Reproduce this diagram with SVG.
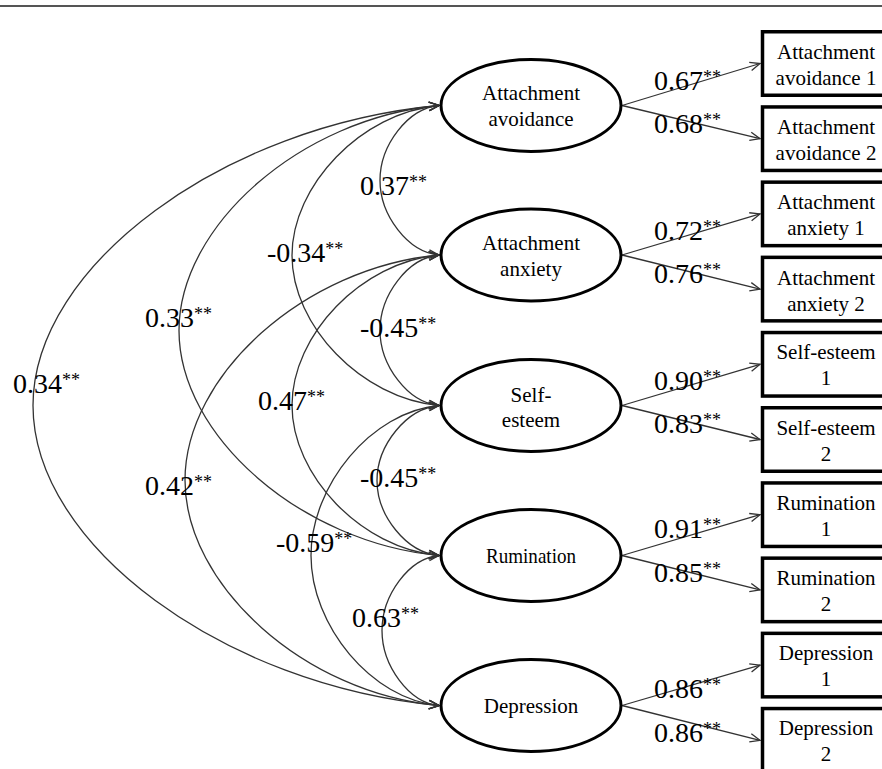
<svg xmlns="http://www.w3.org/2000/svg" width="882" height="769" viewBox="0 0 882 769">
<defs>
<marker id="ah" markerUnits="userSpaceOnUse" markerWidth="14" markerHeight="12" refX="11" refY="5" orient="auto-start-reverse" viewBox="0 0 14 10">
<path d="M1,0.8 L11,5 L1,9.2" fill="none" stroke="#333" stroke-width="1.3"/>
</marker>
<style>
text{font-family:"Liberation Serif","Times New Roman",serif;fill:#000}
.nt{font-size:21px;text-anchor:middle}
.coef{font-size:28px}
.sup{font-size:18px}
.lat{fill:#fff;stroke:#000;stroke-width:3}
.obs{fill:#fff;stroke:#000;stroke-width:3.5}
.c{fill:none;stroke:#333;stroke-width:1.3;marker-end:url(#ah)}
.cc{fill:none;stroke:#333;stroke-width:1.3;marker-start:url(#ah);marker-end:url(#ah)}
</style>
</defs>
<rect width="882" height="769" fill="#fff"/>
<line x1="0" y1="6" x2="882" y2="6" stroke="#555" stroke-width="1.8"/>

<g id="connectors">
<path class="cc" d="M439,105.5 C407.7,108.4 380,145.4 380,180.25 C380,215.1 407.7,252.1 439,255"/>
<path class="cc" d="M439,255 C407.7,257.9 380,295.1 380,330.25 C380,365.4 407.7,402.6 439,405.5"/>
<path class="cc" d="M439,405.5 C406.1,408.5 377,445.5 377,480.5 C377,515.5 406.1,552.5 439,555.5"/>
<path class="cc" d="M439,555.5 C408.8,558.3 382,595.5 382,630.5 C382,665.5 408.8,702.7 439,705.5"/>
<path class="cc" d="M439,105.5 C361.1,112.7 292,185.5 292,255.5 C292,325.5 361.1,398.3 439,405.5"/>
<path class="cc" d="M439,255 C361.1,262.2 292,335.1 292,405.25 C292,475.4 361.1,548.3 439,555.5"/>
<path class="cc" d="M439,405.5 C371.2,411.8 311,485.5 311,555.5 C311,625.5 371.2,699.2 439,705.5"/>
<path class="cc" d="M439,105.5 C301.2,118.2 179,225.4 179,330.5 C179,435.6 301.2,542.8 439,555.5"/>
<path class="cc" d="M439,255 C304.4,267.4 185,375.1 185,480.25 C185,585.4 304.4,693.1 439,705.5"/>
<path class="cc" d="M439,105.5 C223.8,125.4 33,265.4 33,405.5 C33,545.6 223.8,685.6 439,705.5"/>

<path class="c" d="M622,105.5 L760,63.5"/>
<path class="c" d="M622,105.5 L760,138.7"/>
<path class="c" d="M622,255 L760,213.9"/>
<path class="c" d="M622,255 L760,289.1"/>
<path class="c" d="M622,405.5 L760,364.3"/>
<path class="c" d="M622,405.5 L760,439.5"/>
<path class="c" d="M622,555.5 L760,514.7"/>
<path class="c" d="M622,555.5 L760,589.9"/>
<path class="c" d="M622,705.5 L760,665.1"/>
<path class="c" d="M622,705.5 L760,740.3"/>
</g>

<g id="latents">
<g id="n-avoid"><ellipse class="lat" cx="531" cy="105.5" rx="90" ry="46"/>
<text class="nt" x="531" y="100">Attachment</text><text class="nt" x="531" y="126">avoidance</text></g>
<g id="n-anx"><ellipse class="lat" cx="531" cy="255" rx="90" ry="46"/>
<text class="nt" x="531" y="250">Attachment</text><text class="nt" x="531" y="276">anxiety</text></g>
<g id="n-self"><ellipse class="lat" cx="531" cy="405.5" rx="90" ry="46"/>
<text class="nt" x="531" y="401.5">Self-</text><text class="nt" x="531" y="427">esteem</text></g>
<g id="n-rum"><ellipse class="lat" cx="531" cy="555.5" rx="90" ry="46"/>
<text class="nt" x="531" y="563" textLength="90" lengthAdjust="spacingAndGlyphs">Rumination</text></g>
<g id="n-dep"><ellipse class="lat" cx="531" cy="705.5" rx="90" ry="46"/>
<text class="nt" x="531" y="713">Depression</text></g>
</g>

<g id="indicators">
<g id="b-av1"><rect class="obs" x="762.5" y="31.75" width="130" height="63.5"/>
<text class="nt" x="826" y="59">Attachment</text><text class="nt" x="826" y="85">avoidance 1</text></g>
<g id="b-av2"><rect class="obs" x="762.5" y="106.95" width="130" height="63.5"/>
<text class="nt" x="826" y="134.2">Attachment</text><text class="nt" x="826" y="160.2">avoidance 2</text></g>
<g id="b-ax1"><rect class="obs" x="762.5" y="182.15" width="130" height="63.5"/>
<text class="nt" x="826" y="209.4">Attachment</text><text class="nt" x="826" y="235.4">anxiety 1</text></g>
<g id="b-ax2"><rect class="obs" x="762.5" y="257.35" width="130" height="63.5"/>
<text class="nt" x="826" y="284.6">Attachment</text><text class="nt" x="826" y="310.6">anxiety 2</text></g>
<g id="b-se1"><rect class="obs" x="762.5" y="332.55" width="130" height="63.5"/>
<text class="nt" x="826" y="359.3">Self-esteem</text><text class="nt" x="826" y="385.3">1</text></g>
<g id="b-se2"><rect class="obs" x="762.5" y="407.75" width="130" height="63.5"/>
<text class="nt" x="826" y="434.5">Self-esteem</text><text class="nt" x="826" y="460.5">2</text></g>
<g id="b-ru1"><rect class="obs" x="762.5" y="482.95" width="130" height="63.5"/>
<text class="nt" x="826" y="509.7">Rumination</text><text class="nt" x="826" y="535.7">1</text></g>
<g id="b-ru2"><rect class="obs" x="762.5" y="558.15" width="130" height="63.5"/>
<text class="nt" x="826" y="584.9">Rumination</text><text class="nt" x="826" y="610.9">2</text></g>
<g id="b-de1"><rect class="obs" x="762.5" y="633.35" width="130" height="63.5"/>
<text class="nt" x="826" y="660.1">Depression</text><text class="nt" x="826" y="686.1">1</text></g>
<g id="b-de2"><rect class="obs" x="762.5" y="708.55" width="130" height="63.5"/>
<text class="nt" x="826" y="735.3">Depression</text><text class="nt" x="826" y="761.3">2</text></g>
</g>

<g id="labels">
<text class="coef" x="654" y="90">0.67<tspan class="sup" dy="-7">**</tspan></text>
<text class="coef" x="654" y="133">0.68<tspan class="sup" dy="-7">**</tspan></text>
<text class="coef" x="654" y="240">0.72<tspan class="sup" dy="-7">**</tspan></text>
<text class="coef" x="654" y="283">0.76<tspan class="sup" dy="-7">**</tspan></text>
<text class="coef" x="654" y="390">0.90<tspan class="sup" dy="-7">**</tspan></text>
<text class="coef" x="654" y="433">0.83<tspan class="sup" dy="-7">**</tspan></text>
<text class="coef" x="654" y="538">0.91<tspan class="sup" dy="-7">**</tspan></text>
<text class="coef" x="654" y="582">0.85<tspan class="sup" dy="-7">**</tspan></text>
<text class="coef" x="654" y="698">0.86<tspan class="sup" dy="-7">**</tspan></text>
<text class="coef" x="654" y="742">0.86<tspan class="sup" dy="-7">**</tspan></text>

<text class="coef" x="360" y="195">0.37<tspan class="sup" dy="-7">**</tspan></text>
<text class="coef" x="267" y="262">-0.34<tspan class="sup" dy="-7">**</tspan></text>
<text class="coef" x="145" y="327">0.33<tspan class="sup" dy="-7">**</tspan></text>
<text class="coef" x="360" y="337">-0.45<tspan class="sup" dy="-7">**</tspan></text>
<text class="coef" x="13" y="393">0.34<tspan class="sup" dy="-7">**</tspan></text>
<text class="coef" x="258" y="410">0.47<tspan class="sup" dy="-7">**</tspan></text>
<text class="coef" x="360" y="487">-0.45<tspan class="sup" dy="-7">**</tspan></text>
<text class="coef" x="145" y="495">0.42<tspan class="sup" dy="-7">**</tspan></text>
<text class="coef" x="276" y="552">-0.59<tspan class="sup" dy="-7">**</tspan></text>
<text class="coef" x="352" y="627">0.63<tspan class="sup" dy="-7">**</tspan></text>
</g>
</svg>
